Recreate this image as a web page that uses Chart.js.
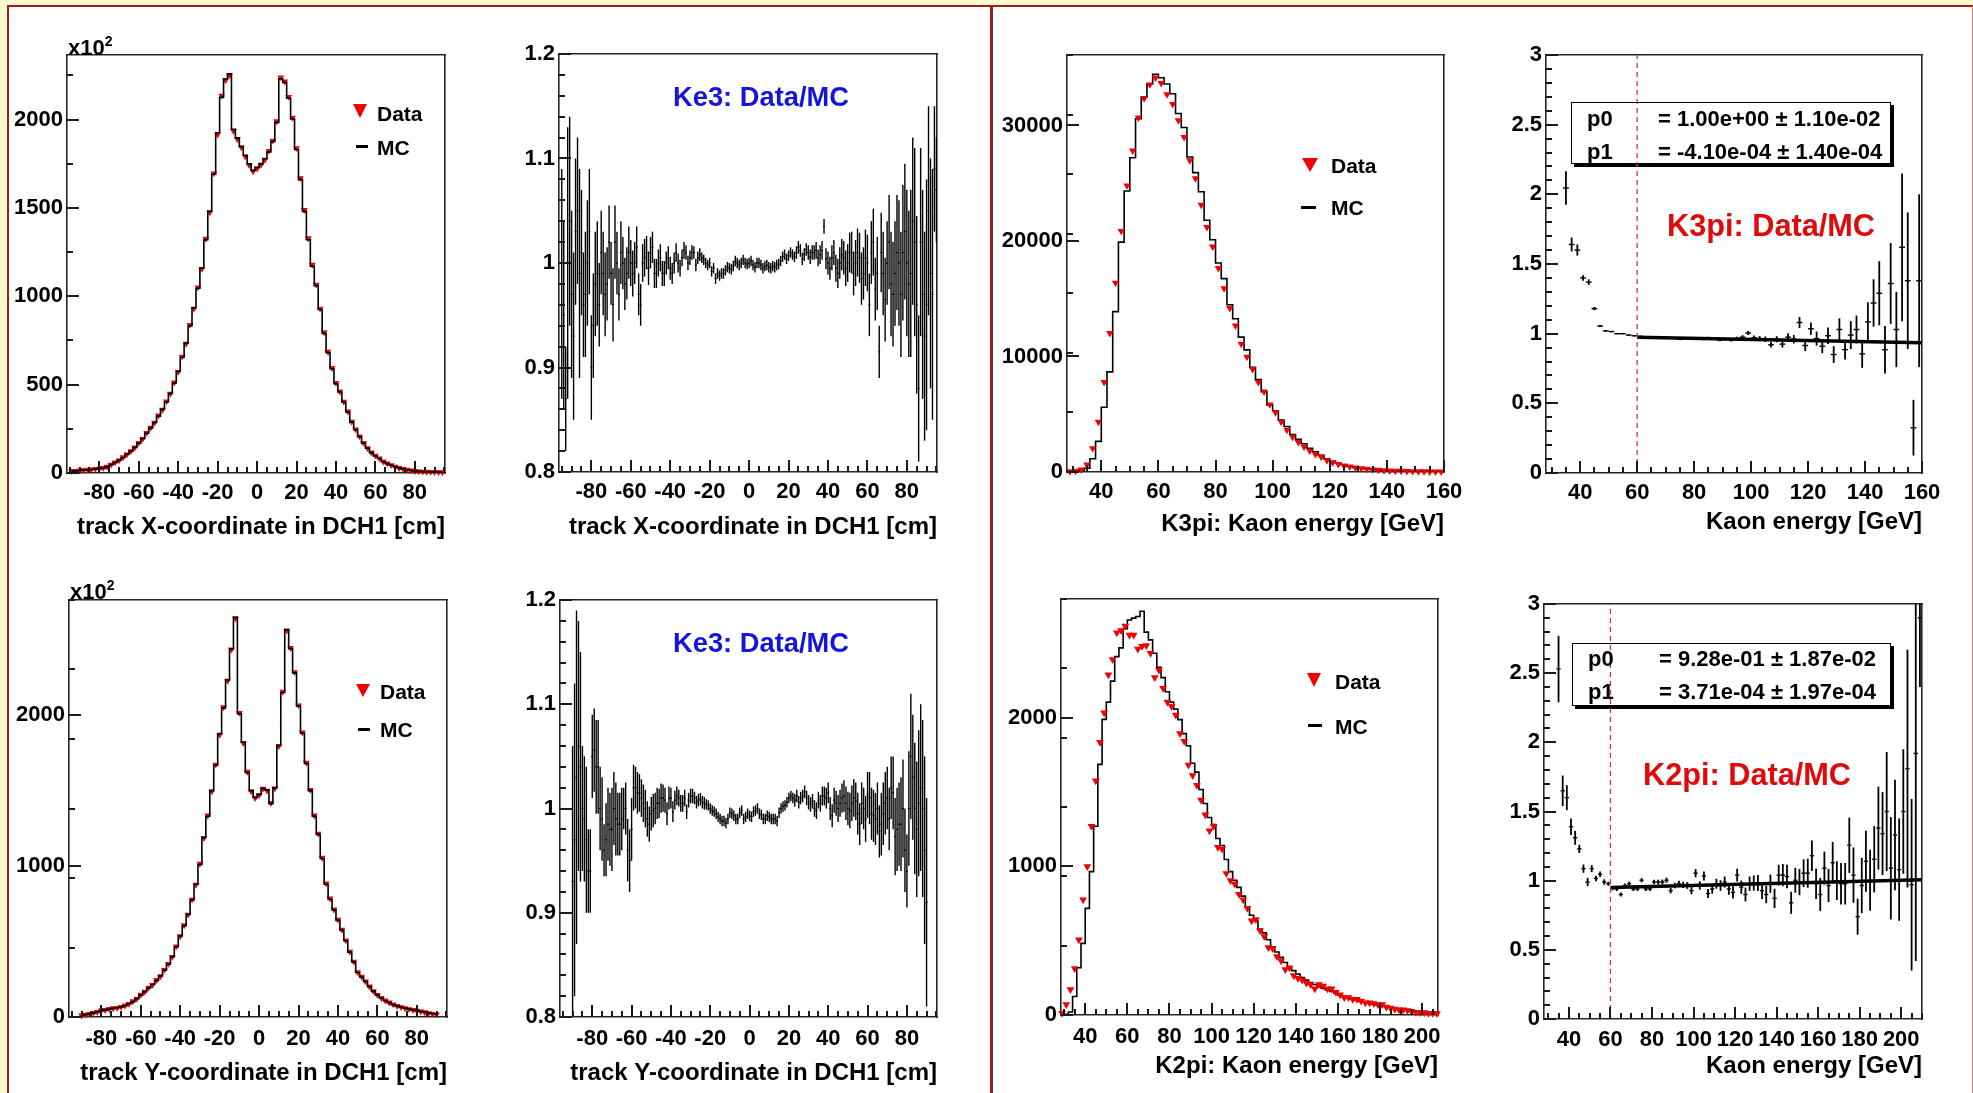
<!DOCTYPE html>
<html><head><meta charset="utf-8">
<script src="https://cdn.jsdelivr.net/npm/chart.js@4.4.1/dist/chart.umd.min.js"></script>
<style>
html,body{margin:0;padding:0}
body{width:1973px;height:1093px;overflow:hidden;position:relative;background:#fffacd;font-family:"Liberation Sans",Arial,sans-serif}
.abs{position:absolute}
canvas{position:absolute;z-index:2}
.t{position:absolute;font-family:"Liberation Sans",Arial,sans-serif;font-weight:bold;white-space:nowrap;z-index:3}
.box{position:absolute;z-index:1;background:#fff;border:1.5px solid #000;box-shadow:3px 3px 0 #000;box-sizing:border-box}
</style></head><body>
<div class="abs" style="left:7px;top:5px;width:1963px;height:1086px;background:#fff;border-top:2px solid #a21c1c;border-left:2px solid #a21c1c;border-right:1px solid #c98080"></div>
<div class="abs" style="left:990px;top:5px;width:3px;height:1088px;background:#a21c1c"></div>
<script>
// ---------------- categories (bin centres) ----------------
function binCenters(first, step, n){const a=[];for(let i=0;i<n;i++)a.push(+(first+i*step).toFixed(3));return a;}
const xBins  = binCenters(-94, 2, 95);   // track X [cm], even centres
const xOddBins = binCenters(-95, 2, 96); // track X [cm], odd centres (ratio plot)
const yBins  = binCenters(-90, 2, 91);   // track Y [cm]
const yOddBins = binCenters(-89, 2, 90);
const k3Bins = binCenters(29, 2, 66);    // K3pi energy [GeV]
const k3RBins= binCenters(35, 2, 63);
const k2Bins = binCenters(29, 2, 90);    // K2pi energy [GeV]
const k2RBins= binCenters(35, 2, 88);

// ---------------- tick labels ----------------
const cmTicks   = [-80,-60,-40,-20,0,20,40,60,80];
const gev160    = [40,60,80,100,120,140,160];
const gev200    = [40,60,80,100,120,140,160,180,200];
const yTicksX   = [0,500,1000,1500,2000];
const yTicksY   = [0,1000,2000];
const yTicksK3  = [0,10000,20000,30000];
const yTicksK2  = [0,1000,2000];
const yTicksRat = [0.8,0.9,1,1.1,1.2];
const yTicksFit = [0,0.5,1,1.5,2,2.5,3];

// ---------------- series: track X (x10^2) ----------------
const xMC = [10,12,14,16,18,20,22,25,28,36,
 48,59,72,88,106,123,145,168,195,225,
 254,286,322,360,402,450,509,575,655,735,
 833,935,1045,1160,1320,1480,1690,1925,2125,2229,
 2258,1945,1896,1847,1798,1749,1712,1729,1749,1778,
 1817,1876,1984,2230,2210,2120,2003,1830,1660,1480,
 1320,1170,1060,925,790,680,590,505,458,400,
 345,288,245,205,168,140,115,97,82,64,
 53,44,36,28,23,18,14,11,9,8,
 7,6,5,5,4];
const xData = [11,12,15,16,19,20,23,25,29,35,
 47,60,71,89,105,124,144,170,193,227,
 256,284,325,358,405,448,512,572,658,731,
 838,930,1050,1155,1325,1475,1695,1915,2135,2222,
 2250,1935,1888,1842,1790,1742,1706,1722,1744,1772,
 1822,1880,1990,2238,2215,2128,2010,1838,1668,1488,
 1328,1178,1066,930,796,686,594,510,461,403,
 348,290,247,207,170,141,116,98,83,65,
 54,44,36,28,23,18,14,11,9,8,
 7,6,5,5,4];
// ratio Data/MC vs X (even centres)
const rxVal = [0.95,1.00,0.97,1.03,0.99,0.96,1.00,0.90,0.98,0.96,
 0.99,0.98,0.99,1.02,0.97,1.00,0.99,1.00,1.00,0.97,
 1.00,1.01,1.01,0.99,1.00,0.99,1.00,0.995,1.00,1.00,
 1.005,1.01,1.005,1.01,1.005,1.005,1.00,1.00,0.995,0.99,
 0.99,0.993,0.995,0.997,1.00,1.00,1.00,1.00,0.998,1.00,
 0.998,0.997,0.996,0.997,0.998,1.002,1.008,1.007,1.008,1.01,
 1.012,1.008,1.01,1.01,1.012,1.008,1.035,1.00,1.005,0.995,
 1.00,1.005,1.00,1.01,1.00,1.005,0.99,1.00,1.01,0.975,
 0.915,0.99,1.00,0.98,0.99,1.00,1.01,1.00,0.99,1.02,
 0.88,0.97,0.96,0.99,1.09];
const rxErr = [0.09,0.13,0.08,0.07,0.10,0.05,0.06,0.05,0.05,0.04,
 0.04,0.035,0.03,0.035,0.025,0.025,0.025,0.022,0.02,0.02,
 0.018,0.016,0.015,0.014,0.013,0.012,0.011,0.011,0.01,0.009,
 0.008,0.007,0.007,0.006,0.006,0.005,0.005,0.005,0.005,0.005,
 0.005,0.005,0.005,0.005,0.005,0.005,0.005,0.005,0.005,0.005,
 0.005,0.005,0.005,0.005,0.005,0.005,0.005,0.005,0.005,0.006,
 0.006,0.006,0.007,0.007,0.008,0.009,0.007,0.011,0.012,0.013,
 0.015,0.016,0.018,0.02,0.022,0.024,0.025,0.027,0.03,0.03,
 0.025,0.04,0.04,0.05,0.05,0.06,0.065,0.07,0.08,0.09,
 0.07,0.10,0.12,0.11,0.06];
// ratio Data/MC vs X (odd centres)
const rxOddVal = [0.98,0.87,1.04,0.93,1.05,1.01,0.97,1.03,0.94,0.99,
 1.01,0.97,1.02,0.96,1.00,1.01,0.98,1.01,0.99,1.015,
 0.96,1.005,0.995,1.015,0.99,1.005,0.99,1.005,0.99,1.01,
 0.995,1.012,1.00,1.01,0.998,1.008,1.003,0.998,0.992,0.985,
 0.988,0.99,0.996,0.994,1.002,0.998,1.003,0.999,1.002,0.996,
 1.00,0.995,0.998,0.995,0.996,0.999,1.006,1.004,1.01,1.006,
 1.015,1.004,1.013,1.006,1.01,1.005,1.012,1.004,0.995,1.01,
 0.99,1.008,0.995,1.01,0.99,1.01,0.985,1.005,0.96,1.02,
 0.99,1.01,0.965,1.02,0.97,1.01,0.97,1.03,0.98,1.04,
 0.96,1.02,0.93,1.05,0.97,1.07];
const rxOddErr = [0.11,0.05,0.10,0.08,0.07,0.06,0.06,0.06,0.05,0.05,
 0.04,0.04,0.035,0.035,0.03,0.03,0.025,0.025,0.022,0.02,
 0.02,0.018,0.016,0.015,0.014,0.013,0.012,0.011,0.01,0.009,
 0.008,0.008,0.007,0.007,0.006,0.006,0.005,0.005,0.005,0.005,
 0.005,0.005,0.005,0.005,0.005,0.005,0.005,0.005,0.005,0.005,
 0.005,0.005,0.005,0.005,0.005,0.005,0.005,0.005,0.005,0.005,
 0.006,0.006,0.006,0.007,0.007,0.008,0.009,0.01,0.011,0.012,
 0.014,0.015,0.017,0.019,0.021,0.023,0.025,0.027,0.03,0.032,
 0.035,0.038,0.04,0.045,0.05,0.055,0.06,0.065,0.07,0.08,
 0.085,0.09,0.10,0.10,0.12,0.05];

// ---------------- series: K3pi energy ----------------
const k3MC = [0,50,150,330,1145,2650,5600,8670,13880,19900,
 24320,27210,30580,32450,33590,34430,34130,33590,32750,31030,
 29830,27270,25920,24260,21790,20110,18090,16740,14480,13270,
 11680,10570,9060,8010,6950,5810,5300,4490,3940,3250,
 2830,2440,2050,1740,1440,1140,930,780,630,480,
 400,330,270,220,180,150,125,105,90,75,
 62,52,44,37,30,25];
const k3Data = [50,100,200,630,2050,4335,7770,12010,16380,20860,
 24800,27820,30680,32330,33540,34140,33660,32690,31850,30430,
 28990,26970,25410,23120,21190,19500,17640,15890,14180,12670,
 11080,9960,8910,7770,6950,5840,5150,4335,3640,3040,
 2590,2180,1835,1535,1300,1000,820,670,550,460,
 380,320,260,210,175,145,120,100,85,70,
 60,50,42,35,30,25];
const k3RVal = [2.045,1.64,1.60,1.40,1.37,1.18,1.055,1.02,1.015,1.00,
 1.00,0.99,0.985,0.98,0.975,0.975,0.97,0.975,0.97,0.97,
 0.96,0.97,0.97,0.965,0.96,0.97,0.965,0.955,0.96,0.955,
 0.965,0.975,1.005,0.97,0.965,0.96,0.92,0.96,0.925,0.975,
 0.96,1.08,0.915,1.035,0.965,0.91,0.985,0.85,1.03,0.885,
 0.99,1.03,0.855,1.085,1.22,1.29,0.885,1.36,1.03,1.62,
 1.38,0.325,1.38];
const k3RErr = [0.12,0.05,0.04,0.02,0.02,0.012,0.008,0.006,0.005,0.005,
 0.005,0.005,0.005,0.005,0.005,0.005,0.005,0.005,0.005,0.006,
 0.006,0.006,0.007,0.007,0.008,0.008,0.009,0.01,0.01,0.012,
 0.013,0.014,0.015,0.016,0.018,0.02,0.02,0.022,0.025,0.028,
 0.03,0.04,0.04,0.045,0.05,0.05,0.06,0.06,0.08,0.07,
 0.1,0.1,0.1,0.14,0.17,0.23,0.17,0.29,0.27,0.53,
 0.49,0.2,0.62];
const fitK3 = [[60,0.975],[160,0.934]];
const cutK3 = [[60,0],[60,3]];

// ---------------- series: track Y (x10^2) ----------------
const yMC = [12,16,20,26,34,42,47,52,57,61,
 66,75,88,102,122,145,168,192,215,242,
 272,310,350,400,465,537,605,680,775,880,
 1010,1190,1330,1500,1668,1875,2048,2233,2440,2648,
 2010,1820,1620,1500,1455,1475,1515,1505,1414,1518,
 1800,2150,2567,2440,2280,2060,1880,1680,1500,1330,
 1210,1050,880,780,710,640,575,505,430,365,
 295,265,235,200,170,145,125,108,95,82,
 72,65,58,52,46,42,36,31,26,22,
 18];
const yData = [10,15,21,27,33,43,46,53,58,60,
 67,76,87,104,121,147,167,194,213,245,
 270,312,352,398,468,535,608,678,778,876,
 1015,1185,1335,1495,1672,1870,2052,2228,2435,2640,
 2015,1815,1625,1495,1450,1470,1512,1500,1418,1515,
 1795,2155,2560,2445,2285,2065,1885,1685,1505,1335,
 1215,1055,885,785,712,645,578,508,433,367,
 297,267,236,202,171,146,126,109,96,83,
 73,65,58,52,46,41,36,31,26,21,
 17];
const ryVal = [0.93,1.03,1.04,0.99,0.94,1.05,1.04,1.00,0.96,0.985,
 0.98,0.99,0.985,1.00,0.96,0.98,1.02,1.015,1.005,0.99,
 0.995,1.00,1.005,1.01,0.995,1.01,1.008,1.01,1.005,0.997,
 1.012,1.01,1.008,1.006,1.004,1.00,0.997,0.992,0.988,0.986,
 0.996,0.993,0.99,0.998,0.992,0.993,0.997,1.00,0.994,0.99,
 0.992,0.99,0.988,1.00,1.003,1.01,1.01,1.012,1.01,1.016,
 1.006,1.007,0.998,1.005,1.012,1.015,0.993,1.005,1.005,1.012,
 1.00,1.005,1.007,0.985,1.00,1.013,0.995,0.99,0.978,0.995,
 1.01,1.02,0.973,0.985,1.00,0.94,1.05,1.00,1.005,1.00,
 0.91];
const ryErr = [0.13,0.16,0.11,0.06,0.04,0.04,0.045,0.04,0.025,0.035,
 0.04,0.035,0.03,0.02,0.03,0.03,0.02,0.018,0.018,0.017,
 0.016,0.015,0.014,0.013,0.011,0.01,0.009,0.008,0.008,0.007,
 0.007,0.006,0.006,0.006,0.005,0.005,0.005,0.005,0.005,0.005,
 0.005,0.005,0.005,0.005,0.005,0.005,0.005,0.005,0.005,0.005,
 0.005,0.005,0.005,0.005,0.005,0.005,0.005,0.006,0.006,0.006,
 0.007,0.007,0.008,0.008,0.009,0.01,0.011,0.012,0.013,0.015,
 0.016,0.017,0.018,0.02,0.02,0.022,0.025,0.025,0.025,0.03,
 0.03,0.03,0.037,0.04,0.047,0.035,0.06,0.063,0.07,0.085,
 0.1];
const ryOddVal = [0.97,1.06,1.00,0.97,0.94,1.056,1.04,0.99,0.97,0.98,
 1.00,0.985,0.99,1.00,0.95,1.02,1.015,1.01,1.00,0.985,
 0.998,1.005,1.01,1.008,1.01,0.997,1.012,1.005,1.01,1.008,
 1.012,1.006,1.009,1.005,1.003,0.998,0.995,0.99,0.988,0.99,
 0.995,0.99,0.996,0.99,0.995,0.992,0.998,0.995,0.99,0.993,
 0.99,0.99,0.996,1.002,1.006,1.012,1.008,1.006,1.012,1.01,
 1.004,1.00,1.008,1.012,1.01,1.00,1.008,1.00,1.01,1.005,
 0.998,1.01,0.995,1.005,0.99,1.01,0.993,1.00,0.985,1.005,
 0.99,1.015,0.98,0.985,0.96,1.00,1.03,0.98,1.02,0.96];
const ryOddErr = [0.15,0.12,0.06,0.07,0.04,0.04,0.045,0.04,0.035,0.035,
 0.035,0.03,0.03,0.025,0.03,0.022,0.02,0.018,0.018,0.017,
 0.016,0.015,0.014,0.012,0.011,0.01,0.009,0.008,0.008,0.007,
 0.007,0.006,0.006,0.006,0.005,0.005,0.005,0.005,0.005,0.005,
 0.005,0.005,0.005,0.005,0.005,0.005,0.005,0.005,0.005,0.005,
 0.005,0.005,0.005,0.005,0.005,0.005,0.006,0.006,0.006,0.007,
 0.007,0.008,0.008,0.009,0.01,0.011,0.012,0.013,0.014,0.016,
 0.017,0.018,0.02,0.02,0.022,0.025,0.025,0.025,0.03,0.03,
 0.03,0.035,0.04,0.045,0.04,0.055,0.06,0.065,0.08,0.09];

// ---------------- series: K2pi energy ----------------
const k2MC = [0,5,20,125,318,482,718,965,1270,1687,
 1990,2106,2247,2412,2471,2600,2659,2671,2682,2718,
 2577,2525,2435,2341,2271,2176,2106,2059,1988,1894,
 1812,1694,1635,1518,1424,1329,1282,1188,1141,1047,
 965,906,859,800,729,671,635,576,553,506,
 459,424,388,353,318,299,275,252,235,219,
 205,195,181,169,158,146,134,125,115,106,
 99,92,85,80,73,68,64,56,52,47,
 42,38,33,28,24,21,19,16,14,12];
const k2Data = [12,70,172,313,506,776,1000,1270,1576,1835,
 2035,2290,2393,2572,2588,2619,2558,2558,2464,2482,
 2487,2435,2271,2322,2200,2106,2078,2019,1894,1842,
 1682,1612,1546,1447,1348,1240,1271,1129,1118,953,
 906,882,812,776,718,635,642,569,529,454,
 447,393,365,306,318,266,247,235,216,205,
 176,205,195,176,176,153,136,118,118,106,
 106,94,82,82,78,71,71,54,47,40,
 35,35,31,24,19,16,16,12,12,10];
const k2RVal = [2.53,1.65,1.60,1.39,1.31,1.23,1.087,0.99,1.087,1.016,
 1.046,0.99,0.978,0.945,0.94,0.90,0.965,0.978,0.94,0.94,
 1.003,0.94,0.94,0.99,0.99,0.99,1.003,0.928,0.965,0.978,
 0.97,0.965,0.928,1.054,0.965,1.034,0.907,0.94,0.978,0.965,
 0.99,0.94,0.915,1.04,0.953,0.90,0.978,0.983,0.983,0.928,
 0.90,0.978,0.872,1.04,1.04,1.03,0.84,1.003,0.99,1.054,
 1.054,1.18,0.978,0.90,1.09,0.965,1.13,1.00,0.978,0.978,
 1.256,1.04,0.74,0.965,1.14,1.003,1.155,1.38,1.34,1.50,
 1.09,1.33,1.08,1.50,1.81,0.97,1.92,2.90];
const k2RErr = [0.24,0.11,0.09,0.06,0.05,0.03,0.03,0.03,0.025,0.02,
 0.02,0.02,0.015,0.015,0.015,0.015,0.015,0.015,0.015,0.015,
 0.015,0.015,0.015,0.016,0.017,0.018,0.019,0.02,0.02,0.022,
 0.023,0.025,0.026,0.03,0.03,0.032,0.032,0.034,0.036,0.038,
 0.04,0.042,0.044,0.046,0.048,0.05,0.052,0.055,0.058,0.06,
 0.063,0.066,0.07,0.075,0.08,0.085,0.08,0.09,0.095,0.10,
 0.105,0.11,0.11,0.12,0.12,0.12,0.15,0.14,0.15,0.15,
 0.20,0.20,0.13,0.20,0.22,0.22,0.24,0.30,0.30,0.43,
 0.37,0.40,0.37,0.45,0.86,0.62,1.5,0.5];
const fitK2 = [[60,0.950],[210,1.006]];
const cutK2 = [[60,0],[60,3]];

// ---------------- drawing helpers ----------------
const FONT='Liberation Sans', AX='#262626';
Chart.defaults.font.family=FONT;
const fmt=v=>String(parseFloat(Number(v).toFixed(4)));
const pts=(xs,ys)=>xs.map((x,i)=>({x,y:ys[i]}));
const errs=(xs,v,e)=>xs.map((x,i)=>({x,y:[v[i]-e[i],v[i]+e[i]]}));
const pairs=a=>a.map(([x,y])=>({x,y}));
// ROOT-style inward tick marks, positioned by the chart's own scales
const innerTicks={id:'innerTicks',afterDraw(chart){
  const ctx=chart.ctx,a=chart.chartArea;
  ctx.save();ctx.strokeStyle='#1a1a1a';ctx.lineWidth=2;
  [['x',12],['xm',6]].forEach(([id,len])=>{const s=chart.scales[id];if(!s)return;s.ticks.forEach(t=>{
    const px=Math.round(s.getPixelForValue(t.value));if(px<a.left-1||px>a.right+1)return;
    ctx.beginPath();ctx.moveTo(px,a.bottom);ctx.lineTo(px,a.bottom-len);ctx.stroke();});});
  [['y',12],['ym',6]].forEach(([id,len])=>{const s=chart.scales[id];if(!s)return;s.ticks.forEach(t=>{
    const py=Math.round(s.getPixelForValue(t.value));if(py<a.top-1||py>a.bottom+1)return;
    ctx.beginPath();ctx.moveTo(a.left,py);ctx.lineTo(a.left+len,py);ctx.stroke();});});
  ctx.restore();}};
function histSets(bins,mc,data,rad,lineTop){
  return [
    {type:'line',data:pts(bins,mc),borderColor:'#000',borderWidth:1.6,stepped:'middle',pointRadius:0,fill:false,clip:0,order:lineTop?0:1,xAxisID:'x',yAxisID:'y'},
    {type:'scatter',data:pts(bins,data),pointStyle:'triangle',rotation:180,pointRadius:rad,backgroundColor:'#f00000',borderColor:'#f00000',borderWidth:0,clip:6,order:lineTop?1:0,xAxisID:'x',yAxisID:'y'}
  ];
}
function ratioSets(bins,v,e,hw,bt,lw){
  return [
    {type:'bar',data:errs(bins,v,e),backgroundColor:'#000',borderWidth:0,barThickness:bt||1.8,inflateAmount:0,clip:0,order:1,xAxisID:'x',yAxisID:'y'},
    {type:'scatter',data:pts(bins,v),pointStyle:'line',pointRadius:hw,borderColor:'#000',borderWidth:lw||1.4,clip:0,order:0,xAxisID:'x',yAxisID:'y'}
  ];
}
function fitSets(fit,cut){
  return [
    {type:'line',data:pairs(fit),borderColor:'#000',borderWidth:3.5,pointRadius:0,clip:0,order:-1,xAxisID:'x',yAxisID:'y'},
    {type:'line',data:pairs(cut),borderColor:'#c43a3a',borderWidth:1.3,borderDash:[5,4],pointRadius:0,clip:0,order:-2,xAxisID:'x',yAxisID:'y'}
  ];
}
function panel(p){
  const Ly=p.ly||72, padTop=22, padRight=36;
  const [l,t,r,b]=p.box;
  const Hx=Math.round(p.titleY+14.4-b);
  const W=Ly+(r-l)+padRight, H=padTop+(b-t)+Hx;
  const cv=document.createElement('canvas');
  cv.width=W; cv.height=H;
  cv.style.left=(l-Ly)+'px'; cv.style.top=(t-padTop)+'px';
  cv.style.width=W+'px'; cv.style.height=H+'px';
  document.body.appendChild(cv);
  const tf={family:FONT,weight:'bold',size:22};
  const lin=o=>Object.assign({type:'linear',offset:false},o);
  const ng={display:false,drawTicks:false,drawOnChartArea:false};
  const bd={display:true,color:AX,width:1.6};
  new Chart(cv,{type:'scatter',data:{datasets:p.datasets},plugins:[innerTicks],options:{
    responsive:false,maintainAspectRatio:false,animation:false,devicePixelRatio:1,events:[],
    layout:{padding:{top:padTop,right:padRight,left:0,bottom:0}},
    plugins:{legend:{display:false},tooltip:{enabled:false}},
    scales:{
      x:lin({axis:'x',position:'bottom',weight:1,min:p.xr[0],max:p.xr[1],grid:ng,border:bd,
        ticks:{autoSkip:false,maxRotation:0,minRotation:0,padding:(p.lab||20)-13.2,color:'#000',font:tf,callback:fmt},
        afterBuildTicks:s=>{s.ticks=p.xTicks.map(v=>({value:v}));},
        title:{display:true,text:p.xTitle,align:'end',color:'#000',font:{family:FONT,weight:'bold',size:24},padding:0},
        afterFit:s=>{s.height=Hx;s.paddingLeft=0;s.paddingRight=0;}}),
      xm:lin({axis:'x',position:'bottom',weight:0,min:p.xr[0],max:p.xr[1],grid:ng,border:{display:false},
        ticks:{display:false,stepSize:p.xMinor,autoSkip:false,includeBounds:false,maxTicksLimit:1000},
        afterFit:s=>{s.height=0;s.paddingLeft=0;s.paddingRight=0;}}),
      y:lin({axis:'y',position:'left',weight:1,min:p.yr[0],max:p.yr[1],grid:ng,border:bd,
        ticks:{autoSkip:false,padding:4,color:'#000',font:tf,callback:fmt},
        afterBuildTicks:s=>{s.ticks=p.yTicks.map(v=>({value:v}));},
        afterFit:s=>{s.width=Ly;s.paddingTop=0;s.paddingBottom=0;}}),
      ym:lin({axis:'y',position:'left',weight:0,min:p.yr[0],max:p.yr[1],grid:ng,border:{display:false},
        ticks:{display:false,stepSize:p.yMinor,autoSkip:false,includeBounds:false,maxTicksLimit:1000},
        afterFit:s=>{s.width=0;s.paddingTop=0;s.paddingBottom=0;}}),
      xt:lin({axis:'x',position:'top',min:0,max:1,grid:ng,border:bd,ticks:{display:false},
        afterFit:s=>{s.height=0;s.paddingLeft=0;s.paddingRight=0;}}),
      yr:lin({axis:'y',position:'right',min:0,max:1,grid:ng,border:bd,ticks:{display:false},
        afterFit:s=>{s.width=0;s.paddingTop=0;s.paddingBottom=0;}})
    }}});
}
function T(s,x,cy,size,color,html){
  const d=document.createElement('div');d.className='t';
  if(html)d.innerHTML=s;else d.textContent=s;
  d.style.left=x+'px';d.style.top=(cy-size/2)+'px';d.style.fontSize=size+'px';d.style.lineHeight=size+'px';d.style.color=color||'#000';
  document.body.appendChild(d);return d;
}
function tri(cx,cy,w,h){
  const d=document.createElement('div');d.className='abs';
  Object.assign(d.style,{left:(cx-w/2)+'px',top:(cy-h/2)+'px',width:'0',height:'0',borderLeft:(w/2)+'px solid transparent',borderRight:(w/2)+'px solid transparent',borderTop:h+'px solid #f00000',zIndex:3});
  document.body.appendChild(d);
}
function dash(x,cy,w){
  const d=document.createElement('div');d.className='abs';
  Object.assign(d.style,{left:x+'px',top:(cy-1.5)+'px',width:w+'px',height:'3px',background:'#000',zIndex:3});
  document.body.appendChild(d);
}
function statBox(x,y,w,h,rows){
  const d=document.createElement('div');d.className='box';
  Object.assign(d.style,{left:x+'px',top:y+'px',width:w+'px',height:h+'px'});
  document.body.appendChild(d);
  rows.forEach(r=>{T(r[0],x+16,r[2],22);T(r[1],x+87,r[2],22);});
}

// ---------------- panels ----------------
const cmRange=[-96.4,95.3];
panel({box:[67,55,445,473],ly:66,xr:cmRange,yr:[0,2365],xTicks:cmTicks,xMinor:5,yTicks:yTicksX,yMinor:250,
  xTitle:'track X-coordinate in DCH1 [cm]',titleY:528,lab:20,datasets:histSets(xBins,xMC,xData,3.9,true)});
panel({box:[559,54,937,472],xr:cmRange,yr:[0.8,1.2],xTicks:cmTicks,xMinor:5,yTicks:yTicksRat,yMinor:0.02,
  xTitle:'track X-coordinate in DCH1 [cm]',titleY:528,lab:20,
  datasets:ratioSets(xBins.concat(xOddBins),rxVal.concat(rxOddVal),rxErr.concat(rxOddErr),1.0,1.4,1.2)});
panel({box:[1067,55,1444,472],xr:[28,160],yr:[0,36100],xTicks:gev160,xMinor:5,yTicks:yTicksK3,yMinor:5000,
  xTitle:'K3pi: Kaon energy [GeV]',titleY:525,lab:20,datasets:histSets(k3Bins,k3MC,k3Data,4.3,false)});
statBox(1571,102,320,62,[['p0','= 1.00e+00 \u00b1 1.10e-02',119],['p1','= -4.10e-04 \u00b1 1.40e-04',152]]);
panel({box:[1546,55,1922,473],xr:[28,160],yr:[0,3],xTicks:gev160,xMinor:5,yTicks:yTicksFit,yMinor:0.1,
  xTitle:'Kaon energy [GeV]',titleY:523,lab:20,datasets:fitSets(fitK3,cutK3).concat(ratioSets(k3RBins,k3RVal,k3RErr,2.9))});
panel({box:[69,600,447,1017],ly:66,xr:cmRange,yr:[0,2763],xTicks:cmTicks,xMinor:5,yTicks:yTicksY,yMinor:500,
  xTitle:'track Y-coordinate in DCH1 [cm]',titleY:1074,lab:22,datasets:histSets(yBins,yMC,yData,3.9,true)});
panel({box:[560,600,937,1017],xr:cmRange,yr:[0.8,1.2],xTicks:cmTicks,xMinor:5,yTicks:yTicksRat,yMinor:0.02,
  xTitle:'track Y-coordinate in DCH1 [cm]',titleY:1074,lab:22,
  datasets:ratioSets(yBins.concat(yOddBins),ryVal.concat(ryOddVal),ryErr.concat(ryOddErr),1.0,1.4,1.2)});
panel({box:[1061,599,1438,1015],xr:[28.5,207.5],yr:[0,2800],xTicks:gev200,xMinor:5,yTicks:yTicksK2,yMinor:500,
  xTitle:'K2pi: Kaon energy [GeV]',titleY:1067,lab:22,datasets:histSets(k2Bins,k2MC,k2Data,4.5,false)});
statBox(1572,643,319,63,[['p0','= 9.28e-01 \u00b1 1.87e-02',659],['p1','= 3.71e-04 \u00b1 1.97e-04',692]]);
panel({box:[1544,604,1922,1019],xr:[28,210],yr:[0,3],xTicks:gev200,xMinor:5,yTicks:yTicksFit,yMinor:0.1,
  xTitle:'Kaon energy [GeV]',titleY:1067,lab:21,datasets:fitSets(fitK2,cutK2).concat(ratioSets(k2RBins,k2RVal,k2RErr,2.1))});

// ---------------- annotations ----------------
const sup='<span style="font-size:14px;position:relative;top:-9px">2</span>';
T('x10'+sup,68,48,22,'#000',true);
T('x10'+sup,70,592,22,'#000',true);
tri(360,111,14,14); T('Data',377,113,21); dash(356,146,12); T('MC',377,147,21);
tri(1310,165,16,14); T('Data',1331,165,21); dash(1301,207,15); T('MC',1331,207,21);
tri(363,690,14,13); T('Data',380,691,21); dash(358,729,12); T('MC',380,729,21);
tri(1314,680,15,14); T('Data',1335,681,21); dash(1308,725,14); T('MC',1335,726,21);
T('Ke3: Data/MC',673,97,27.3,'#1414dc');
T('Ke3: Data/MC',673,643,27.3,'#1414dc');
T('K3pi: Data/MC',1667,226,30.7,'#e00a0a');
T('K2pi: Data/MC',1643,775,30.7,'#e00a0a');
</script>
</body></html>
